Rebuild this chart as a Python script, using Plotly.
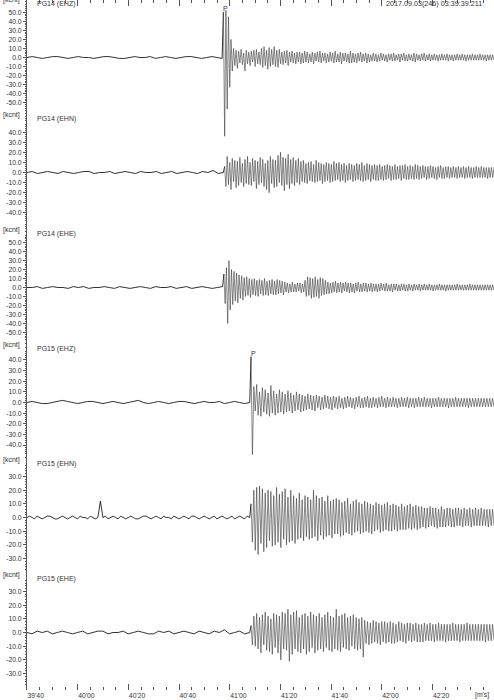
import numpy as np
import plotly.graph_objects as go

FONT = "Liberation Sans, Arial, Helvetica, sans-serif"
INK_PRE = "#1a1a1a"
INK_POST = "#3a3a3a"
AXIS = "#555555"
TXT = "#333333"

# ---- time axis (seconds after 03:39:40) ----
TICK_SECONDS = [0, 20, 40, 60, 80, 100, 120, 140, 160]
TICK_LABELS = ["39'40", "40'00", "40'20", "40'40", "41'00", "41'20", "41'40", "42'00", "42'20"]
T_END = 184.3
TIMESTAMP = "2017.09.03(246) 03:39:39.211"

# ---- channels ----
CHANNELS = ["PG14 (EHZ)", "PG14 (EHN)", "PG14 (EHE)", "PG15 (EHZ)", "PG15 (EHN)", "PG15 (EHE)"]
ONSETS = [77.5, 78.0, 77.7, 88.4, 88.4, 88.4]          # seconds
P_PICKS = [78.5, None, None, 89.2, None, None]          # seconds
HALF_RANGE = [63.5, 57.0, 64.0, 54.0, 42.0, 42.0]       # kcnt shown per panel
LABEL_LIMIT = [50, 40, 50, 40, 30, 30]                  # labelled tick extent

# ---- waveforms (kcnt), pre-event noise and post-onset record ----
pg14_ehz_pre = [0, 1, 0, -1, 0, 1, 1, 0, -1, 0, 1, 0, 0, -1, 0, 1, 1, 0, -1, -1,
                0, 1, 0, 0, 1, -1, 0, 1, 0, -1, 0, 1, 1, 0, -1, 0, 1, 0, -1]
pg14_ehz_post = [
    50, -87, 52, -57, 45, -33, 20, -15, 10, -9, 8, -12, 7, -6, 9, -8, 5, -15, 8, -7,
    6, -9, 7, -5, 8, -10, 9, -7, 6, -8, 10, -11, 12, -9, 8, -13, 11, -10, 9, -8,
    12, -10, 8, -11, 9, -7, 6, -8, 7, -6, 8, -9, 6, -5, 7, -6, 5, -7, 6, -5,
    6, -7, 5, -6, 7, -5, 6, -6, 4, -5, 6, -7, 5, -4, 6, -5, 7, -6, 5, -4,
    5, -6, 4, -5, 6, -4, 5, -6, 7, -5, 4, -5, 6, -7, 5, -4, 5, -5, 4, -6,
    7, -6, 5, -5, 4, -6, 5, -4, 6, -5, 4, -4, 5, -6, 4, -5, 3, -4, 5, -4,
    4, -5, 3, -4, 5, -3, 4, -4, 3, -5, 4, -3, 4, -4, 5, -4, 3, -3, 4, -5,
    4, -3, 5, -4, 3, -4, 4, -3, 3, -4, 5, -5, 4, -3, 3, -4, 4, -3, 5, -4,
    3, -3, 4, -4, 3, -3, 4, -3, 3, -4, 3, -3, 4, -3, 3, -3, 4, -4, 3, -3,
    3, -4, 3, -3, 4, -3, 3, -3, 4, -3, 3, -4, 3, -3, 3, -3, 4, -3, 3, -3,
    3, -3, 4, -3, 3, -3, 3, -4, 3, -3, 3, -3, 3, -3]

pg14_ehn_pre = [0, 1, -1, 0, 1, 0, -1, 1, 0, -1, 0, 1, 1, -1, 0, 0, 1, -1, 0, 1,
                0, -1, 1, 0, 0, 1, -1, 0, 1, -1, 0, 1, 0, -1, 1, 0, 2, -1, 0]
pg14_ehn_post = [
    6, -14, 16, -12, 10, -17, 14, -9, 12, -15, 11, -13, 15, -10, 9, -14, 13, -11, 16, -12,
    10, -13, 14, -9, 12, -16, 11, -12, 15, -10, 13, -14, 9, -17, 12, -20, 16, -11, 13, -15,
    12, -14, 17, -10, 20, -13, 15, -18, 14, -12, 18, -16, 13, -11, 15, -13, 12, -10, 14, -12,
    11, -9, 12, -10, 9, -11, 10, -8, 11, -9, 8, -10, 12, -9, 10, -8, 9, -11, 8, -9,
    10, -8, 9, -10, 8, -9, 11, -8, 9, -7, 10, -9, 8, -8, 9, -10, 7, -8, 9, -7,
    8, -9, 7, -8, 9, -7, 8, -8, 10, -9, 7, -8, 9, -7, 8, -9, 7, -7, 8, -8,
    7, -8, 8, -7, 6, -8, 7, -7, 8, -6, 7, -8, 6, -7, 8, -7, 6, -6, 7, -8,
    7, -6, 8, -7, 6, -7, 7, -6, 6, -7, 8, -6, 7, -7, 6, -6, 7, -5, 6, -7,
    6, -6, 7, -5, 6, -6, 5, -7, 6, -5, 7, -6, 5, -6, 6, -5, 6, -6, 5, -5,
    6, -5, 5, -6, 6, -5, 5, -5, 6, -6, 5, -5, 6, -5, 5, -6, 5, -5, 6, -5,
    5, -5, 6, -5, 5, -5, 5, -6, 5, -5, 5, -5, 5]

pg14_ehe_pre = [0, 0, 1, -1, 0, 1, 0, 0, -1, 1, 0, 1, -1, 0, 0, 1, 0, -1, 1, 0,
                -1, 0, 1, 0, -1, 1, 0, 0, 1, -1, 0, 1, -1, 0, 1, 0, -1, 0, 1]
pg14_ehe_post = [
    15, -18, 22, -40, 30, -25, 20, -19, 18, -15, 16, -17, 14, -12, 13, -14, 11, -10, 12, -9,
    10, -11, 9, -8, 10, -9, 8, -10, 9, -7, 8, -9, 10, -8, 7, -9, 8, -7, 9, -8,
    7, -8, 9, -7, 8, -6, 7, -8, 6, -5, 5, -6, 4, -5, 6, -5, 4, -5, 5, -4,
    5, -6, 4, -5, 8, -10, 12, -9, 11, -12, 10, -11, 12, -10, 9, -12, 11, -9, 10, -8,
    8, -7, 6, -7, 5, -6, 6, -5, 7, -6, 5, -5, 6, -6, 5, -4, 6, -5, 5, -6,
    5, -5, 4, -6, 5, -4, 6, -5, 4, -5, 5, -4, 5, -5, 4, -4, 5, -5, 4, -4,
    4, -5, 4, -4, 5, -3, 4, -4, 5, -4, 3, -4, 4, -5, 4, -3, 4, -4, 3, -4,
    4, -3, 4, -4, 3, -4, 4, -3, 3, -4, 4, -3, 3, -3, 4, -4, 3, -3, 4, -3,
    3, -3, 4, -3, 3, -4, 3, -3, 3, -3, 4, -3, 3, -3, 3, -4, 3, -3, 3, -3,
    3, -3, 3, -3, 4, -3, 3, -3, 3, -3, 3, -3, 3, -3, 4, -3, 3, -3, 3, -3,
    3, -3, 3, -3, 3, -3, 3, -3, 3, -3, 3, -3, 3, -3]

pg15_ehz_pre = [0, 1, 0, -1, -1, 0, 1, 2, 1, 0, -1, 0, 1, 1, 0, -1, 0, 1, 0, -1,
                0, 1, 2, 0, -1, 0, 1, 0, -1, 0, 1, 1, 0, -1, 0, 1, 0, 0, 1, -1,
                0, 1, 0, -1, 0]
pg15_ehz_post = [
    43, -49, 15, -8, 17, -12, 10, -13, 14, -9, 12, -11, 9, -13, 16, -10, 11, -12, 8, -10,
    12, -9, 10, -11, 8, -9, 11, -8, 9, -10, 7, -8, 10, -7, 8, -9, 7, -8, 6, -7,
    8, -6, 7, -7, 6, -8, 7, -5, 6, -7, 5, -6, 7, -5, 6, -6, 5, -7, 6, -5,
    5, -6, 6, -5, 4, -6, 5, -5, 6, -4, 5, -5, 4, -6, 5, -4, 6, -5, 4, -5,
    5, -4, 6, -5, 4, -5, 5, -4, 4, -5, 5, -4, 6, -4, 4, -5, 5, -4, 4, -4,
    5, -4, 4, -5, 4, -4, 5, -4, 4, -4, 5, -5, 4, -4, 4, -5, 4, -4, 5, -4,
    4, -4, 5, -4, 4, -4, 4, -5, 4, -4, 4, -4, 5, -4, 4, -4, 4, -4, 4, -5,
    4, -4, 4, -4, 5, -4, 4, -4, 4, -4, 4, -4, 4, -5, 4, -4, 4, -4, 4, -4,
    4, -4, 4, -4, 4, -4, 4, -4, 4, -4, 4, -4]

pg15_ehn_pre = [0, 1, 0, -1, 1, 0, -1, 0, 1, 1, 0, -1, -1, 0, 1, 0, -1, 0, 1, 0,
                -1, 1, 0, 0, -1, 1, 0, -1, 0, 12, 0, 1, -1, 0, 1, 0, -1, 1, 0, -1,
                0, 1, 0, -1, -1, 0, 1, 1, 0, -1, 0, 1, 0, -1, 1, 0, 0, -1, 1, 0,
                -1, 0, 1, 0, -1, 1, 1, 0, -1, 0, 1, 0, -1, 0, 1, -1, 0, 1, 0, -1,
                0, 1, -1, 0, 1, 0, -1, 1, 0]
pg15_ehn_post = [
    10, -18, 20, -24, 22, -27, 23, -19, 21, -25, 18, -22, 20, -17, 19, -21, 16, -20, 22, -18,
    17, -22, 19, -16, 21, -20, 15, -18, 20, -17, 16, -19, 14, -16, 18, -15, 13, -17, 16, -14,
    15, -16, 13, -15, 20, -14, 16, -17, 14, -13, 15, -16, 12, -14, 16, -13, 12, -15, 13, -12,
    14, -12, 13, -14, 11, -13, 12, -11, 14, -12, 10, -13, 12, -11, 13, -10, 11, -12, 10, -11,
    12, -10, 11, -11, 10, -12, 9, -10, 11, -9, 10, -11, 9, -10, 10, -9, 11, -10, 9, -10,
    10, -9, 9, -10, 8, -9, 10, -9, 8, -9, 9, -8, 10, -9, 8, -8, 9, -9, 8, -8,
    8, -7, 7, -8, 7, -7, 8, -6, 7, -7, 7, -8, 6, -7, 8, -7, 6, -7, 7, -6,
    7, -7, 6, -7, 7, -6, 7, -6, 6, -7, 7, -6, 6, -6, 7, -7, 6, -6, 7, -6,
    6, -6, 7, -6, 6, -6, 6, -7, 6, -6, 6, -6]

pg15_ehe_pre = [0, -1, 1, 0, 1, -1, 0, 1, 0, -1, 0, 1, -1, 0, 1, 1, -1, 0, 0, 1,
                -1, 0, 1, 0, -1, -1, 1, 0, 1, -1, 0, 1, 0, -1, 1, 0, -1, 1, 0, 2,
                -1, 0, 1, -1, 0]
pg15_ehe_post = [
    5, -9, 12, -10, 14, -12, 11, -15, 13, -9, 15, -13, 12, -14, 10, -16, 14, -11, 13, -15,
    12, -20, 15, -12, 14, -13, 17, -21, 13, -16, 15, -12, 16, -14, 11, -15, 13, -12, 14, -16,
    12, -14, 15, -11, 13, -15, 12, -13, 14, -12, 11, -14, 13, -11, 15, -13, 12, -14, 11, -12,
    17, -13, 12, -14, 13, -11, 14, -12, 11, -13, 12, -10, 13, -12, 11, -13, 10, -12, 11, -18,
    9, -8, 8, -9, 7, -8, 9, -7, 8, -8, 7, -9, 8, -7, 8, -8, 7, -7, 8, -8,
    7, -8, 6, -7, 8, -6, 7, -7, 6, -8, 7, -6, 7, -7, 6, -6, 7, -7, 6, -7,
    6, -7, 7, -6, 6, -6, 7, -6, 6, -7, 6, -6, 7, -6, 6, -6, 6, -7, 6, -6,
    6, -6, 7, -6, 6, -6, 6, -7, 6, -6, 6, -6, 7, -6, 6, -6, 6, -6, 6, -6,
    6, -6, 6, -6, 6, -7, 6, -6, 6, -6, 6, -6]

PRE = [pg14_ehz_pre, pg14_ehn_pre, pg14_ehe_pre, pg15_ehz_pre, pg15_ehn_pre, pg15_ehe_pre]
POST = [pg14_ehz_post, pg14_ehn_post, pg14_ehe_post, pg15_ehz_post, pg15_ehn_post, pg15_ehe_post]

# ---- geometry ----
W, HGT = 494, 700
ML, MB = 27, 10
PW, PH = W - ML, HGT - MB
PANEL_H = PH / 6


def px_x(px):
    return (px - ML) / PW


def px_y(py):
    return 1 - py / PH


fig = go.Figure()
layout = dict(
    width=W, height=HGT,
    margin=dict(l=ML, r=0, t=0, b=MB, pad=0, autoexpand=False),
    paper_bgcolor="white", plot_bgcolor="white",
    showlegend=False,
    font=dict(family=FONT, size=7, color=TXT),
)

annotations = []
for k in range(6):
    yname = "y" if k == 0 else f"y{k + 1}"
    t_pre = np.linspace(0, ONSETS[k] - 0.5, len(PRE[k]))
    t_post = np.linspace(ONSETS[k], T_END, len(POST[k]))
    v_pre = np.asarray(PRE[k], float)
    v_post = np.asarray(POST[k], float)
    fig.add_trace(go.Scatter(x=np.append(t_pre, t_post[0]), y=np.append(v_pre, v_post[0]),
                             mode="lines", xaxis="x", yaxis=yname,
                             line=dict(color=INK_PRE, width=0.9), hoverinfo="skip"))
    fig.add_trace(go.Scatter(x=t_post, y=v_post, mode="lines", xaxis="x", yaxis=yname,
                             line=dict(color=INK_POST, width=0.6), hoverinfo="skip"))

    z = (k + 0.5) * PANEL_H
    s = (PANEL_H / 2) / HALF_RANGE[k]
    rng = [-(PH - z) / s, z / s]
    M = LABEL_LIMIT[k]
    major = list(range(-M, M + 1, 10))
    lim = int(HALF_RANGE[k]) - 1
    minor_vals = [val for val in range(-lim, lim + 1) if val % 2 == 0 and val % 10 != 0]
    ax = dict(
        domain=[0, 1], range=rng, anchor="x", side="left", automargin=False,
        showgrid=False, zeroline=False, fixedrange=True,
        tickmode="array", tickvals=major, ticktext=[f"{val:.1f}" for val in major],
        ticks="outside", ticklen=3, tickwidth=1, tickcolor=AXIS,
        minor=dict(tickmode="array", tickvals=minor_vals, ticks="outside",
                   ticklen=1.5, tickwidth=1, tickcolor=AXIS, showgrid=False),
        tickfont=dict(family=FONT, size=6.8, color=TXT),
        showline=(k == 0), linecolor=AXIS, linewidth=1,
    )
    if k > 0:
        ax["overlaying"] = "y"
    layout["yaxis" if k == 0 else f"yaxis{k + 1}"] = ax

    top = k * PANEL_H
    annotations.append(dict(text="[kcnt]", xref="paper", yref="paper",
                            x=px_x(1), y=px_y(top), xanchor="left", yanchor="middle",
                            showarrow=False, font=dict(family=FONT, size=7, color=TXT)))
    annotations.append(dict(text=CHANNELS[k], xref="paper", yref="paper",
                            x=px_x(35), y=px_y(top + 4), xanchor="left", yanchor="middle",
                            showarrow=False, font=dict(family=FONT, size=7, color=TXT)))
    if P_PICKS[k] is not None:
        annotations.append(dict(text="P", xref="x", yref="paper",
                                x=P_PICKS[k], y=px_y(top + 8), xanchor="center", yanchor="middle",
                                showarrow=False, font=dict(family=FONT, size=7, color=TXT)))

annotations.append(dict(text=TIMESTAMP, xref="paper", yref="paper",
                        x=px_x(484), y=px_y(3.5), xanchor="right", yanchor="middle",
                        showarrow=False, font=dict(family=FONT, size=7.2, color=TXT)))
annotations.append(dict(text="[m's]", xref="paper", yref="paper",
                        x=px_x(482), y=px_y(695), xanchor="center", yanchor="middle",
                        showarrow=False, font=dict(family=FONT, size=6.8, color=TXT)))

layout["xaxis"] = dict(
    domain=[0, 1], range=[0, T_END], anchor="y", side="bottom", automargin=False,
    showgrid=False, zeroline=False, showline=False, fixedrange=True,
    tickmode="array", tickvals=TICK_SECONDS, ticktext=TICK_LABELS,
    ticks="inside", ticklen=6, tickwidth=1, tickcolor=AXIS, mirror="ticks",
    ticklabelposition="outside right", ticklabelstandoff=0,
    minor=dict(tickmode="linear", tick0=0, dtick=5, ticks="inside", ticklen=3,
               tickwidth=1, tickcolor=AXIS, showgrid=False),
    tickfont=dict(family=FONT, size=6.8, color=TXT),
)
layout["annotations"] = annotations
fig.update_layout(**layout)

fig.write_html("out.html", config={"displayModeBar": False},
               post_script="document.body.style.margin='0px';document.body.style.overflow='hidden';")
